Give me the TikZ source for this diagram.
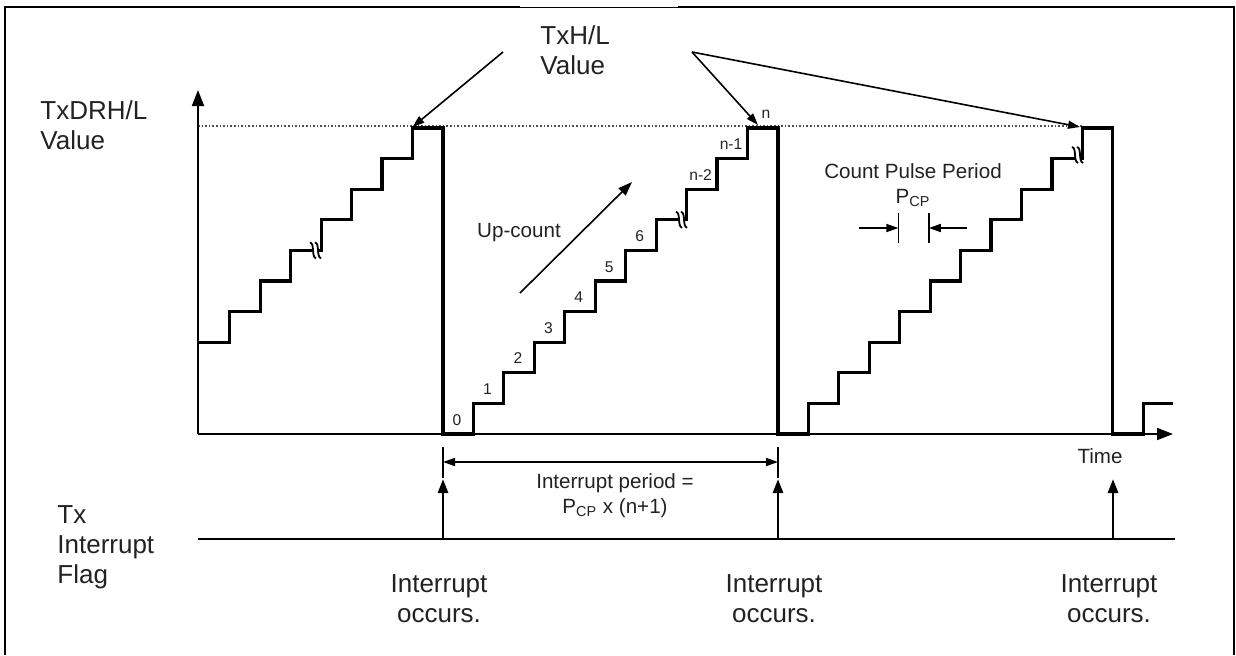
\documentclass[tikz,border=0pt]{standalone}
\usepackage{fontspec}
\setmainfont{Liberation Sans}
\usepackage{tikz}
\usetikzlibrary{arrows.meta,calc,positioning}
\definecolor{tink}{HTML}{222222}
\tikzset{
  >={Triangle[length=6pt,width=4pt]},
  tframe/.style={black, line width=1pt},
  taxis/.style={black, line width=0.9pt, -{Triangle[length=8pt,width=6pt]}},
  tstair/.style={black, line width=1.6pt, line join=miter},
  tguide/.style={black!70, densely dotted, line width=0.8pt},
  tptr/.style={->, black, line width=0.8pt},
  tdim/.style={black, line width=0.8pt},
  tirq/.style={-{Triangle[length=7pt,width=5pt]}, black, line width=1.4pt},
  tbig/.style={tink, font=\fontsize{13}{15}\selectfont, align=left, inner sep=0pt},
  tmid/.style={tink, font=\fontsize{10.3}{12.5}\selectfont, align=center, inner sep=0pt},
  tnum/.style={tink, font=\fontsize{7.8}{9}\selectfont, inner sep=0pt},
  tbrk/.pic={
    \fill[white] (-3,-9) -- (2,-9) -- (3,9) -- (-2,9) -- cycle;
    \draw[black, line width=0.9pt] (-6,-8) .. controls (-1,-7) and (-5,6) .. (0,8);
    \draw[black, line width=0.9pt] (-1,-8) .. controls (4,-7) and (0,6) .. (5,8);
  },
}

\begin{document}
\begin{tikzpicture}[x=0.5pt,y=-0.5pt]
  \useasboundingbox (0,0) rectangle (1236,655);

  % frame (bottom edge is cut off)
  \draw[tframe] (5,655) -- (5,7) -- (520,7);
  \draw[tframe] (678,7) -- (1234,7) -- (1234,655);
  \draw[black, line width=0.4pt] (520,7) -- (678,7);

  % axes and top level
  \coordinate (org) at (198,434);
  \draw[tguide] (198,126) -- (1082,126);
  \draw[taxis] (org) -- (198,90);
  \draw[taxis] (org) -- (1173,434);

  % counter value
  \draw[tstair] (198,342.2) -- ++(31.8,0)
    \foreach \i in {1,...,7}  { -- ++(0,-30.6) -- ++(30.45,0) } -- ++(0,306)
    \foreach \i in {1,...,10} { -- ++(30.45,0) -- ++(0,-30.6) } -- ++(30.45,0) -- ++(0,306)
    \foreach \i in {1,...,10} { -- ++(30.45,0) -- ++(0,-30.6) } -- ++(30.45,0) -- ++(0,306)
    -- ++(30.45,0) -- ++(0,-30.6) -- ++(29.5,0);

  \pic at (316,250.4) {tbrk};
  \pic at (682,219.8) {tbrk};
  \pic at (1078,155) {tbrk};

  % step numbers
  \foreach \i/\t in {0/0,1/1,2/2,3/3,4/4,5/5,6/6,8/n-2,9/n-1}
    \node[tnum, anchor=base] (lv\i) at ({457+30.45*\i},{425-30.6*\i}) {\t};
  \node[tnum, anchor=base] (lvn) at (766,118) {n};

  % labels
  \node[tbig, anchor=north west] (ylbl) at (40,100) {TxDRH/L\\Value};
  \node[tbig, anchor=north west] (txhl) at (540,25) {TxH/L\\Value};
  \node[tbig, anchor=north west] (flbl) at (57,505) {Tx\\Interrupt\\Flag};
  \node[tmid, anchor=base] (upc) at (519,237) {Up-count};
  \node[tmid, anchor=north] (cpp) at (913,163) {Count Pulse Period\\P\textsubscript{CP}};
  \node[tmid, anchor=base] (tlbl) at (1100,463) {Time};

  % TxH/L pointers
  \coordinate (hlA) at (503,52);
  \coordinate (hlB) at (692,52);
  \coordinate (top1) at (412.5,127);
  \coordinate (top2) at (758,125);
  \coordinate (top3) at (1080,127);
  \draw[tptr] (hlA) -- (top1);
  \draw[tptr] (hlB) -- (top2);
  \draw[tptr] (hlB) -- (top3);

  % up-count direction
  \coordinate (ucA) at (520,293);
  \coordinate (ucB) at (632,182);
  \draw[tptr, -{Triangle[length=7pt,width=5pt]}] (ucA) -- (ucB);

  % count pulse period
  \draw[tdim] (898.4,213) -- (898.4,243);
  \draw[tdim] (928.8,213) -- (928.8,243);
  \coordinate (cpL) at (859,228);
  \coordinate (cpR) at (967,228);
  \draw[tdim, ->] (cpL) -- (898.4,228);
  \draw[tdim, ->] (cpR) -- (928.8,228);

  % interrupt flag
  \draw[black, line width=1pt] (198,539) -- (1175,539);
  \foreach \x/\nm in {443/a,778/b,1113/c} {
    \coordinate (irq\nm) at (\x,539);
    \draw[tirq] (irq\nm) -- ++(0,-60);
    \node[tbig, align=center, anchor=north] (occ\nm) at (\x-4,574) {Interrupt\\occurs.};
  }

  % interrupt period
  \draw[tdim] (443,447) -- (443,478);
  \draw[tdim] (778,447) -- (778,478);
  \coordinate (dimL) at (443,462);
  \coordinate (dimR) at (778,462);
  \draw[tdim, <->] (dimL) -- (dimR);
  \node[tmid, anchor=north] (iper) at (615,473) {Interrupt period =\\P\textsubscript{CP} x (n+1)};

\end{tikzpicture}
\end{document}
